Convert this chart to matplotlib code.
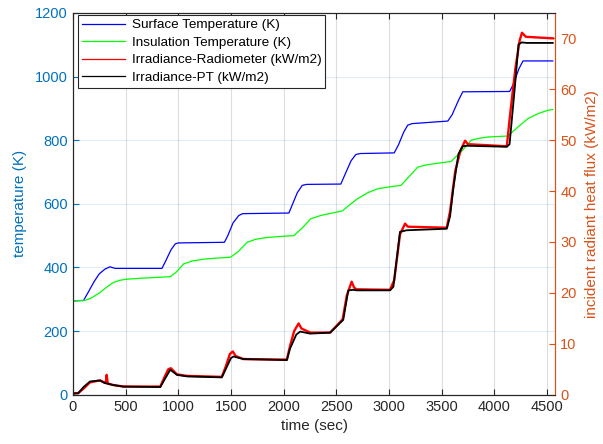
import numpy as np
import matplotlib.pyplot as plt

plt.rcParams['font.family'] = ['Liberation Sans', 'DejaVu Sans']

# surface temperature (K), left axis
t_surf = [0, 100, 150, 200, 250, 305, 352, 400, 845, 880, 930, 971, 1000, 1438, 1470, 1520, 1574, 1610,
          2050, 2080, 2130, 2177, 2220, 2543, 2580, 2640, 2686, 2730, 3050, 3090, 3140, 3178, 3220,
          3559, 3600, 3660, 3701, 3740, 4146, 4180, 4235, 4273, 4310, 4555]
T_surf = [295, 296, 325, 355, 380, 395, 402, 397, 397, 420, 455, 474, 477, 479, 500, 540, 563, 569,
          571, 595, 635, 658, 661, 662, 690, 735, 755, 758, 760, 785, 825, 847, 852,
          860, 880, 925, 952, 952, 953, 975, 1025, 1049, 1049, 1049]

# insulation temperature (K), left axis
t_ins = [0, 120, 180, 257, 320, 384, 450, 511, 640, 765, 924, 980, 1050, 1130, 1241, 1350, 1495, 1570,
         1654, 1730, 1812, 1950, 2098, 2180, 2257, 2350, 2448, 2560, 2620, 2702, 2800, 2892, 3000,
         3114, 3190, 3273, 3350, 3432, 3590, 3690, 3781, 3860, 3940, 4130, 4220, 4321, 4420, 4511, 4555]
T_ins = [295, 297, 305, 321, 338, 353, 360, 363, 366, 368, 371, 385, 411, 420, 426, 429, 432, 450,
         479, 488, 493, 497, 500, 525, 553, 563, 570, 578, 595, 616, 635, 647, 653,
         658, 685, 715, 722, 726, 733, 765, 800, 806, 810, 813, 840, 868, 884, 894, 896]

# irradiance from radiometer (kW/m2), right axis
t_rad = [0, 50, 100, 160, 200, 257, 300, 312, 320, 330, 384, 479, 829, 870, 905, 930, 987, 1082, 1413,
         1450, 1490, 1517, 1545, 1619, 2031, 2060, 2100, 2142, 2170, 2252, 2442, 2560, 2600, 2646,
         2670, 2694, 3010, 3050, 3105, 3153, 3180, 3549, 3580, 3630, 3680, 3723, 3750, 4119, 4150,
         4200, 4240, 4263, 4300, 4555]
q_rad = [0.3, 0.3, 1.2, 2.4, 2.6, 2.8, 2.4, 2.3, 3.9, 2.2, 1.9, 1.6, 1.6, 3.5, 5.0, 5.2, 4.0, 3.7, 3.5,
         5.5, 8.0, 8.5, 7.6, 7.0, 6.9, 9.5, 12.5, 14.0, 13.0, 12.2, 12.2, 14.8, 19.5, 22.2,
         21.0, 20.7, 20.6, 22.5, 31.5, 33.6, 33.0, 32.8, 36, 44, 48, 49.9, 49.2, 48.8, 55,
         64, 69.5, 71.1, 70.3, 70.0]

# irradiance from PT (kW/m2), right axis
t_pt = [0, 50, 100, 162, 257, 300, 384, 479, 829, 870, 924, 987, 1082, 1413, 1450, 1500, 1524, 1619,
        2031, 2060, 2120, 2157, 2252, 2442, 2566, 2614, 2660, 2694, 3010, 3042, 3105, 3169, 3549,
        3580, 3612, 3660, 3700, 3739, 4119, 4145, 4198, 4230, 4260, 4309, 4555]
q_pt = [0.2, 0.3, 1.5, 2.6, 2.8, 2.3, 1.9, 1.6, 1.5, 3.0, 4.9, 3.9, 3.6, 3.4, 5.0, 7.2, 7.5, 7.0,
        6.8, 9.0, 11.8, 12.4, 12.0, 12.2, 14.7, 20.5, 20.6, 20.5, 20.5, 21.2, 32.0, 32.3, 32.6,
        35, 40.7, 47.3, 48.8, 48.9, 48.7, 49.2, 61, 68.8, 69.2, 69.1, 69.1]

left_c = '#0072BD'
right_c = '#D95319'
dark = '#262626'

fig = plt.figure(figsize=(6.03, 4.44), dpi=100)
ax = fig.add_axes([0.121, 0.111, 0.800, 0.860])
ax2 = ax.twinx()

l1, = ax.plot(t_surf, T_surf, color='#0000FF', lw=0.9, label='Surface Temperature (K)')
l2, = ax.plot(t_ins, T_ins, color='#00FF00', lw=0.9, label='Insulation Temperature (K)')
l3, = ax2.plot(t_rad, q_rad, color='#FF0000', lw=1.7, label='Irradiance-Radiometer (kW/m2)')
l4, = ax2.plot(t_pt, q_pt, color='#000000', lw=1.3, label='Irradiance-PT (kW/m2)')

ax.set_xlim(0, 4580)
ax.set_ylim(0, 1200)
ax2.set_ylim(0, 75)
ax.set_xticks(np.arange(0, 4501, 500))
ax.set_yticks(np.arange(0, 1201, 200))
ax2.set_yticks(np.arange(0, 71, 10))

ax.grid(True, axis='x', color=dark, alpha=0.15, lw=0.8)
ax.grid(True, axis='y', color=left_c, alpha=0.12, lw=0.8)
ax.set_axisbelow(True)

ax.tick_params(axis='x', direction='in', top=True, colors=dark, labelsize=10.5, length=4)
ax.tick_params(axis='y', direction='in', colors=left_c, labelsize=10.5, length=4)
ax2.tick_params(axis='y', direction='in', colors=right_c, labelsize=10.5, length=4)

for a in (ax, ax2):
    a.spines['top'].set_color(dark)
    a.spines['bottom'].set_color(dark)
    a.spines['left'].set_color(dark)
    a.spines['right'].set_color(right_c)

ax.set_xlabel('time (sec)', fontsize=11, color=dark, labelpad=4)
ax.set_ylabel('temperature (K)', fontsize=11, color=left_c, labelpad=6)
ax2.set_ylabel('incident radiant heat flux (kW/m2)', fontsize=11, color=right_c, labelpad=6)

leg = ax2.legend(handles=[l1, l2, l3, l4], loc='upper left', bbox_to_anchor=(0.01, 0.995),
                 borderaxespad=0, fancybox=False, framealpha=1, edgecolor=dark, fontsize=9.7,
                 handlelength=3.2, handletextpad=0.5, labelspacing=0.38, borderpad=0.3)
leg.get_frame().set_linewidth(0.8)
for line in leg.get_lines():
    line.set_linewidth(0.9)

plt.savefig('out.png', dpi=100)
